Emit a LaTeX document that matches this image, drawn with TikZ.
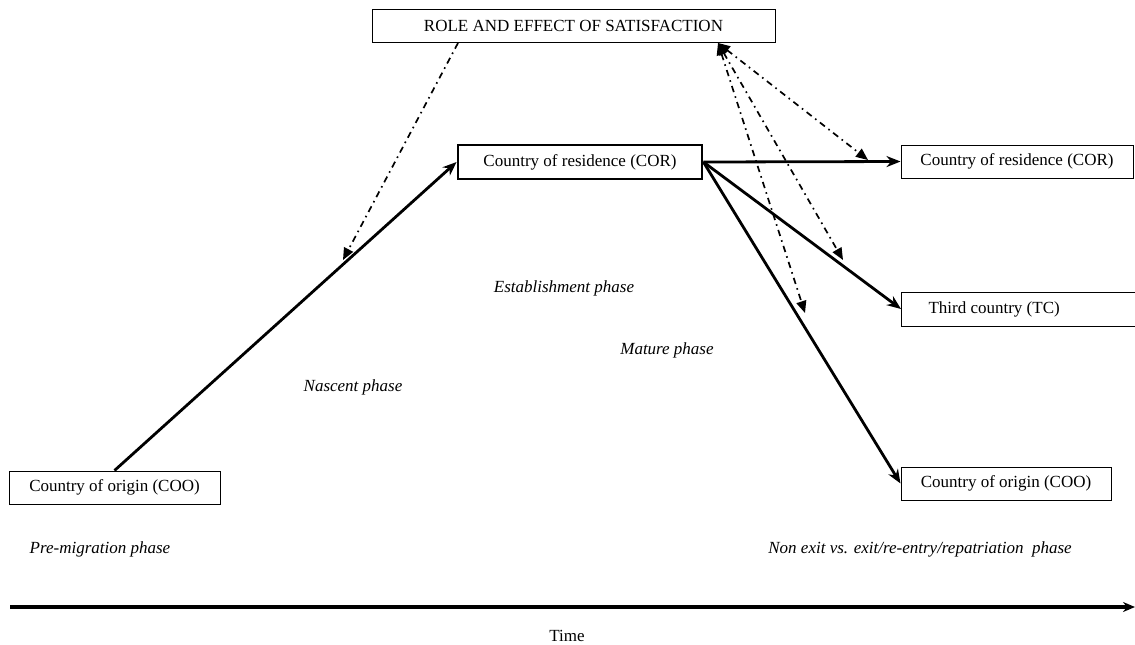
\documentclass[tikz,border=0pt]{standalone}
\usepackage{fontspec}
\setmainfont{Liberation Serif}
\usetikzlibrary{arrows.meta}

\tikzset{
  box/.style={draw, line width=0.5pt, inner sep=0pt, minimum height=16.5pt, font=\fontsize{8.5}{10}\selectfont},
  corbox/.style={box, line width=1.4pt},
  flow/.style={line width=1.4pt, -{Stealth[length=7pt,width=5.5pt]}},
  effect/.style={line width=0.85pt, dash pattern=on 3.2pt off 2.2pt on 0.8pt off 2.2pt},
  etip/.tip={Triangle[length=6pt,width=5pt]},
  phase/.style={font=\fontsize{8.5}{10}\selectfont\itshape}
}

\begin{document}
\begin{tikzpicture}[x=0.5pt, y=-0.5pt]
  \useasboundingbox (0,0) rectangle (1135,644);

  % Boxes
  \node[box, minimum width=201.5pt] (sat) at (573.5,25.5) {ROLE AND EFFECT OF SATISFACTION};
  \node[corbox, minimum width=122pt, minimum height=17pt] (cor) at (580,162) {Country of residence (COR)};
  \node[box, minimum width=116pt] (corR) at (1017,161.5) {Country of residence (COR)};
  \node[box, text width=117pt, align=flush left, minimum height=17pt, anchor=west] (tc) at (901,309) {\hspace*{13.5pt}Third country (TC)};
  \node[box, minimum width=105pt] (cooR) at (1006,483.5) {Country of origin (COO)};
  \node[box, minimum width=105.5pt] (cooL) at (114.5,487.5) {Country of origin (COO)};

  % Phases
  \node[phase] (estab) at (564,288) {Establishment phase};
  \node[phase] (mature) at (667,350) {Mature phase};
  \node[phase] (nascent) at (353,387) {Nascent phase};
  \node[phase] (premig) at (100,549) {Pre-migration phase};
  \node[phase] (exit) at (920,549) {Non exit vs. exit/re-entry/repatriation\ \ phase};

  % Migration paths
  \draw[flow] (cooL.north) -- (cor.west);
  \draw[flow] (cor.east) -- (corR.west);
  \draw[flow] (cor.east) -- (tc.west);
  \draw[flow] (cor.east) -- (cooR.west);

  % Satisfaction links
  \coordinate (sL) at (458,43);
  \coordinate (sR) at (718,43);
  \coordinate (onNascent) at (343,260);
  \coordinate (onStay) at (868,160);
  \coordinate (onThird) at (843,260);
  \coordinate (onReturn) at (805,313);
  \draw[effect, -etip] (sL) -- (onNascent);
  \draw[effect, etip-etip] (sR) -- (onStay);
  \draw[effect, etip-etip] (sR) -- (onThird);
  \draw[effect, etip-etip] (sR) -- (onReturn);

  % Time axis
  \coordinate (t0) at (10,607);
  \coordinate (t1) at (1135,607);
  \draw[line width=2pt, -{Stealth[length=6pt,width=5pt]}] (t0) -- (t1);
  \node[font=\fontsize{8.5}{10}\selectfont] (time) at (567,636) {Time};
\end{tikzpicture}
\end{document}
